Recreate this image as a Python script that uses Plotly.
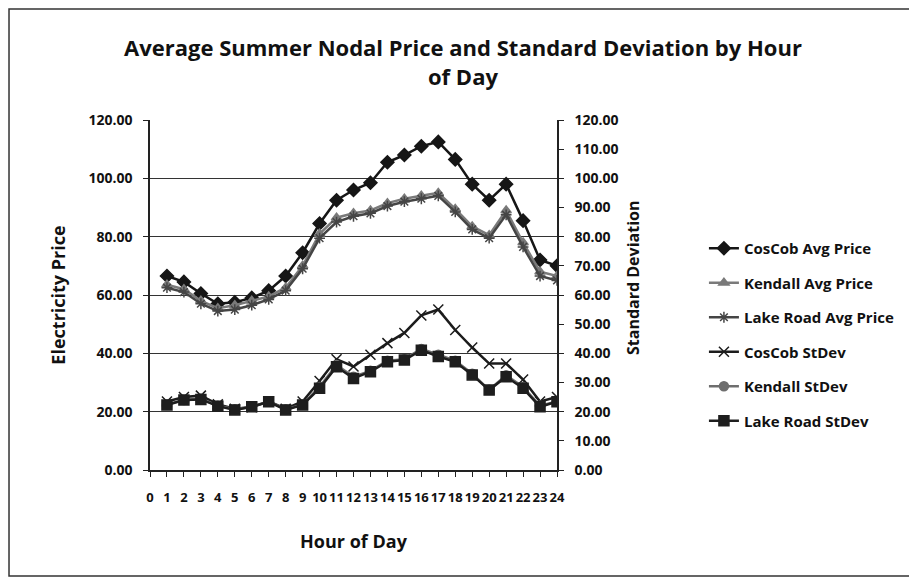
import plotly.graph_objects as go

hours = list(range(1, 25))
x_tick_vals = list(range(0, 25))
x_tick_text = [str(v) for v in x_tick_vals]

coscob_avg = [66.5, 64.5, 60.5, 57.0, 57.5, 59.0, 61.5, 66.5, 74.5, 84.5, 92.5, 96.0, 98.5,
              105.5, 108.0, 111.0, 112.5, 106.5, 98.0, 92.5, 98.0, 85.5, 72.0, 70.0]
kendall_avg = [63.5, 62.0, 58.0, 55.5, 56.5, 58.0, 59.5, 62.5, 70.0, 81.0, 86.5, 88.0, 89.0,
               91.5, 93.0, 94.0, 95.0, 89.5, 83.5, 80.5, 89.0, 78.0, 68.0, 66.5]
lakeroad_avg = [62.5, 61.0, 57.0, 54.5, 55.0, 56.5, 58.5, 61.5, 69.0, 79.5, 85.0, 87.0, 88.0,
                90.5, 92.0, 93.0, 94.0, 88.5, 82.5, 79.5, 87.5, 76.5, 66.5, 65.0]
coscob_sd = [23.5, 25.0, 25.5, 22.5, 21.0, 21.5, 23.5, 21.0, 23.5, 30.5, 38.0, 35.5, 39.5,
             43.5, 47.0, 53.0, 55.0, 48.0, 42.0, 36.5, 36.5, 31.0, 23.5, 25.0]
kendall_sd = [22.5, 24.0, 24.5, 22.0, 20.8, 21.8, 23.5, 20.8, 22.5, 28.5, 36.0, 32.0, 34.0,
              37.5, 38.0, 41.5, 39.5, 37.5, 33.0, 27.5, 32.5, 28.5, 22.0, 23.5]
lakeroad_sd = [22.3, 24.0, 24.2, 21.9, 20.6, 21.7, 23.4, 20.6, 22.3, 28.0, 35.4, 31.4, 33.7,
               37.1, 37.7, 41.1, 38.9, 37.1, 32.6, 27.4, 32.0, 28.0, 21.7, 23.4]

left_ticks = [0, 20, 40, 60, 80, 100, 120]
right_ticks = list(range(0, 121, 10))

fnt = "Open Sans"

fig = go.Figure()

def add(name, y, color, symbol, size, axis, lw=2.5):
    fig.add_trace(go.Scatter(
        x=hours, y=y, name=name, mode="lines+markers", yaxis=axis,
        legendgroup=name,
        line=dict(color=color, width=lw),
        marker=dict(symbol=symbol, size=size, color=color,
                    line=dict(color=color, width=1.5)),
    ))

add("CosCob Avg Price", coscob_avg, "#161616", "diamond", 10, "y")
add("Kendall Avg Price", kendall_avg, "#7a7a7a", "triangle-up", 9, "y")
add("Lake Road Avg Price", lakeroad_avg, "#454545", "asterisk-open", 9, "y")
add("CosCob StDev", coscob_sd, "#1c1c1c", "x-thin-open", 10, "y2")
add("Kendall StDev", kendall_sd, "#6e6e6e", "circle", 9, "y2")
add("Lake Road StDev", lakeroad_sd, "#1e1e1e", "square", 10, "y2")

tickf = dict(size=14, family=fnt, color="#111", weight="bold")

fig.update_layout(
    width=917, height=578,
    margin=dict(l=142, r=368, t=112, b=116),
    paper_bgcolor="white", plot_bgcolor="white",
    font=dict(family=fnt, color="#111111"),
    title=dict(text="Average Summer Nodal Price and Standard Deviation by Hour<br>of Day",
               x=0.769, xref="paper", xanchor="center", y=0.917, yanchor="middle",
               font=dict(size=22, family=fnt, color="#111111", weight="bold")),
    xaxis=dict(range=[0, 24], tickmode="array", tickvals=x_tick_vals, ticktext=x_tick_text,
               tickangle=0, showgrid=False, zeroline=False, showline=True,
               linecolor="#222222", linewidth=1.5, ticks="outside", ticklen=5,
               tickcolor="#222222", ticklabelstandoff=10,
               tickfont=dict(size=13, family=fnt, color="#111", weight="bold"),
               title=dict(text="Hour of Day", font=dict(size=18, family=fnt, weight="bold"), standoff=30)),
    yaxis=dict(range=[0, 120], tickmode="array", tickvals=left_ticks,
               ticktext=[f"{v:.2f}" for v in left_ticks],
               showgrid=True, gridcolor="#333333", gridwidth=1, zeroline=False,
               showline=True, linecolor="#222222", linewidth=1.5, ticks="outside",
               ticklen=5, tickcolor="#222222", ticklabelstandoff=8,
               tickfont=tickf,
               title=dict(text="Electricity Price", font=dict(size=18, family=fnt, weight="bold"), standoff=18)),
    yaxis2=dict(range=[0, 120], overlaying="y", side="right", tickmode="array",
                tickvals=right_ticks, ticktext=[f"{v:.2f}" for v in right_ticks],
                showgrid=False, zeroline=False, showline=True, linecolor="#222222",
                linewidth=1.5, ticks="outside", ticklen=5, tickcolor="#222222",
                ticklabelstandoff=8, tickfont=tickf),
    legend=dict(x=1.361, xanchor="left", y=0.68, yanchor="top",
                font=dict(size=15, family=fnt, color="#111", weight="bold"),
                tracegroupgap=12, bgcolor="rgba(0,0,0,0)"),
    showlegend=True,
)

# right axis title placed to match the reference position
fig.add_annotation(text="Standard Deviation", xref="paper", yref="paper",
                   x=(625 - 142) / 407, y=(462 - 270) / 350, textangle=-90,
                   showarrow=False, xanchor="center", yanchor="middle",
                   font=dict(size=16, family=fnt, color="#111", weight="bold"))

fig.add_shape(type="rect", xref="paper", yref="paper",
              x0=-0.3464, x1=1.8796, y0=-0.303, y1=1.317,
              line=dict(color="#333333", width=1.5), fillcolor="rgba(0,0,0,0)", layer="below")

fig.write_html("out.html")
